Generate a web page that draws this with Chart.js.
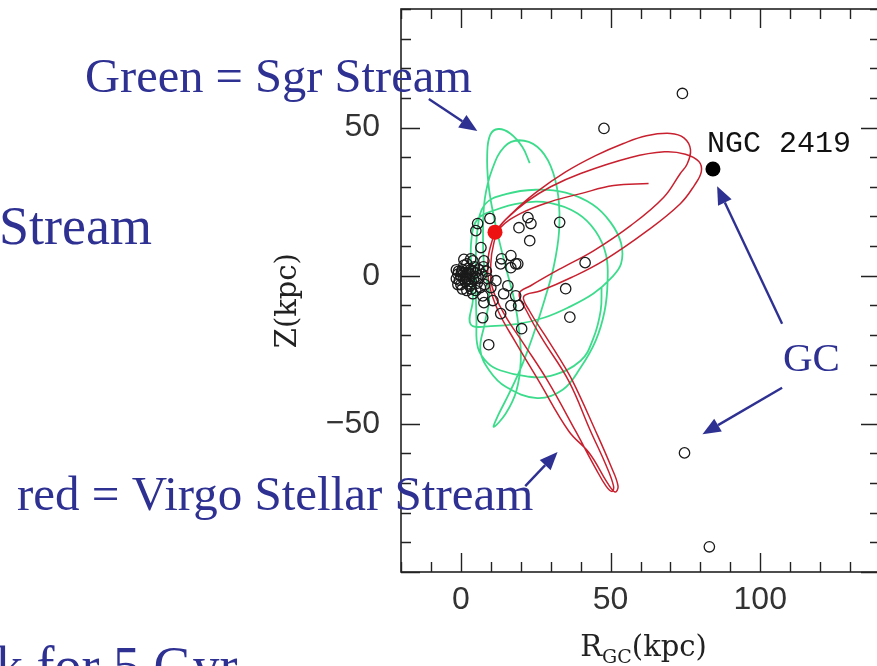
<!DOCTYPE html>
<html>
<head>
<meta charset="utf-8">
<script src="https://cdn.jsdelivr.net/npm/chart.js@4/dist/chart.umd.min.js"></script>
<style>
  html, body { margin: 0; padding: 0; background: #fff; overflow: hidden; width: 877px; height: 666px; }
  #wrap { position: absolute; left: 0; top: 0; width: 900px; height: 666px; }
  canvas { display: block; }
</style>
</head>
<body>
<div id="wrap"><canvas id="c" width="900" height="666"></canvas></div>
<script>
// Orbit of the Sgr stream, [R_GC, Z] in kpc
const sgrOrbit = [
  [23,38],[20.5,43.5],[16.5,48],[12.5,49.5],[9.8,47.5],[8.8,41],[9.2,31],[10.8,21],[13,11],[15.5,1],
  [18,-9],[19.5,-19],[20,-29],[18.5,-39],[15,-46.5],[11,-51],
  [12.5,-47],[16,-40],[20.5,-30],[24.5,-19],[28,-8],[31,3],[32.8,15],[32.5,27],[30,37],[25.5,43.5],
  [19.5,45.7],[14.5,43.5],[10.5,36],[8,26],[7.4,14],[7.8,3],[9.5,-7],
  [8,-16],[6.5,-25],[9.5,-32],[15,-37.5],[25.5,-41.3],[34,-38.5],[40,-31],[45,-22],[48,-12],[49,-2],
  [48.5,7],[45,15],[39,21],[30,24.5],[20,24.5],[11,22],[5.5,19],[3.5,12],[3.5,2],[4,-8],[3.3,-16.5],
  [10,-17],[19,-16.3],[27.7,-14.2],[35.7,-10.8],[44.3,-6],[50,-1],[53.5,4],[53.5,11],[50,18],[44,24],
  [35,28],[25,29],[15,27.5],[8,24],[5.5,15],[5,0],[5.2,-15],[5.7,-24.3],
  [9,-29.5],[13.3,-32],[22,-34],[30,-33.8],[40,-28.7],[44.3,-21],[46.7,-11.8],[47,-4]
];

// Orbit of the Virgo Stellar Stream, [R_GC, Z] in kpc
const vssOrbit = [
  [11.4,14.7],[15,19],[22,25],[30,30],[40,34.5],[56.7,39.9],[68,41.8],[75,41],[79.5,38.5],[80.3,35],
  [78,30.5],[73.3,24.3],[62.3,15.2],[47.7,5.1],[36.7,-0.7],[26.7,-5.1],[21,-7],
  [23,-12],[28,-20],[33,-28],[37.3,-35.5],[45,-52.4],[50,-64],[52.5,-71],[51.5,-73],[49,-70],[43,-60],
  [36,-52.4],[26,-35.5],[18,-22],[12.5,-12],[9.5,-3],[9,5],[10.5,12],[12,15.5],
  [17,21],[25,28],[35,35],[45,40.5],[54.3,44.6],[62,47.2],[70,48],[74.5,46.5],[76.7,42.5],[75.5,37.5],
  [73.3,34.5],[67.7,26.4],[56.7,16.9],[44.3,8.4],[33.3,2.4],[23.3,-3.4],[19.5,-6],
  [22,-12],[27,-21],[36,-35.5],[43.3,-52.4],[48.5,-64],[51,-71],[50.5,-72.8],[48.5,-71],[45,-65],
  [38.3,-52.4],[29,-35.5],[21,-23],[14.5,-13],[10.5,-4],[10,4],[11,11],[13,16],
  [20,21],[30,25],[40,27.7],[51,30.4],[62.7,31.1]
];

// Globular clusters, [R_GC, Z] in kpc
const globularClusters = [
  [74,61.5],[47.8,49.7],[74.7,-59.8],[83,-91.5],[41.5,4.4],[35,-4.4],[36.4,-14],[33,18],
  [23,11.8],[19.4,16.2],[22.4,19.6],[23.4,17.6],[9.7,19.3],[5.6,17.6],[5,15.2],[6.7,9.5],
  [13.6,5.7],[16.7,6.8],[18.3,4],[16.7,2.7],[19,4],[15.7,-3.4],[18.3,-6.8],[19.3,-10.1],
  [16.7,-10.1],[13.3,-12.8],[7.3,-14.2],[20.3,-17.9],[9.3,-23.3],[4,-6.1],[7.3,-6.8],[7.7,-9.1],
  [10.7,-8.4],[10,-4],[11.7,-1.7],[14.3,-6.1],[13.3,4],[7.7,5],[3.3,5.7],
  [0,0],[1,1],[2,-1],[-1,0.5],[0.5,2],[1.5,-2],[3,0.5],[2.5,2.5],[-0.5,-1.5],[1,3.5],
  [3.5,-2],[4,1.5],[-1.5,2],[0,-3],[2,4],[5,-0.5],[4.5,3],[3,-3.5],[-1,-3],[1.8,0.2],
  [0.2,1.2],[2.8,-1.2],[6,2],[5.5,-2.5],[4,5],[6.5,-4],[1,5.5],[7,0.5],[8,-3],[7.5,3],
  [2,-5],[5,-5],[9,-1],[-1.5,-1],[0.5,-4.5],[3.5,-4.5],[6,-1],[8.5,1.5],
  [1.5,-0.5],[2.5,1],[0.8,-1],[3.2,2],[4.2,-1],[-0.8,1.5],[2.2,-2.8],[4.8,1]
];

const ngc2419 = [[84.2,36]];
const vssNow = [[11.4,14.7]];

// Axis ranges and labelled ticks
const rRange = [-20, 140];
const zRange = [-100, 90];
const rTickLabels = [0, 50, 100];
const zTickLabels = [-50, 0, 50];
const minorStep = 10;
const majorStep = 50;

// Callout arrows: [tailR, tailZ, tipR, tipZ]
const callouts = [
  [-10.7, 59.6, 5.5, 48.8],
  [21.5, -71.0, 32.3, -59.5],
  [107.3, -16.2, 85.6, 30.2],
  [107.3, -37.8, 80.7, -53.5]
];

const toXY = arr => arr.map(([x, y]) => ({x, y}));
const BLUE = '#2e3192';
const INK = '#222';

const framePlugin = {
  id: 'frame',
  afterDatasetsDraw(chart) {
    const {ctx, chartArea: a, scales: {x, y}} = chart;
    ctx.save();
    ctx.strokeStyle = INK;
    ctx.lineWidth = 1.6;
    ctx.strokeRect(a.left, a.top, a.right - a.left, a.bottom - a.top);
    ctx.lineWidth = 1.4;
    ctx.beginPath();
    for (let v = rRange[0]; v <= rRange[1]; v += minorStep) {
      const p = Math.round(x.getPixelForValue(v)) + 0.5;
      const L = v % majorStep === 0 ? 19 : 10;
      ctx.moveTo(p, a.bottom); ctx.lineTo(p, a.bottom - L);
      ctx.moveTo(p, a.top); ctx.lineTo(p, a.top + L);
    }
    for (let v = zRange[0]; v <= zRange[1]; v += minorStep) {
      const p = Math.round(y.getPixelForValue(v)) + 0.5;
      const L = v % majorStep === 0 ? 19 : 10;
      ctx.moveTo(a.left, p); ctx.lineTo(a.left + L, p);
      ctx.moveTo(a.right, p); ctx.lineTo(a.right - L, p);
    }
    ctx.stroke();

    // axis titles
    ctx.fillStyle = INK;
    ctx.textBaseline = 'alphabetic';
    const big = '29px "DejaVu Serif"', sub = '19px "DejaVu Serif"';
    ctx.font = big; const wR = ctx.measureText('R').width; const wK = ctx.measureText('(kpc)').width;
    ctx.font = sub; const wG = ctx.measureText('GC').width;
    const cx = (x.getPixelForValue(rTickLabels[0]) + x.getPixelForValue(rTickLabels[2])) / 2 + 33;
    let tx = cx - (wR + wG + wK) / 2;
    const base = a.bottom + 84;
    ctx.textAlign = 'left';
    ctx.font = big; ctx.fillText('R', tx, base); tx += wR;
    ctx.font = sub; ctx.fillText('GC', tx, base + 7); tx += wG;
    ctx.font = big; ctx.fillText('(kpc)', tx, base);

    ctx.save();
    ctx.translate(a.left - 113, y.getPixelForValue(0) + 25);
    ctx.rotate(-Math.PI / 2);
    ctx.font = big; ctx.textAlign = 'center'; ctx.textBaseline = 'middle';
    ctx.fillText('Z(kpc)', 0, 0);
    ctx.restore();

    // NGC 2419 label
    const nx = x.getPixelForValue(ngc2419[0][0]), ny = y.getPixelForValue(ngc2419[0][1]);
    ctx.font = '30px "Liberation Mono"';
    ctx.textAlign = 'left'; ctx.textBaseline = 'alphabetic';
    ctx.fillStyle = '#111';
    ctx.fillText('NGC 2419', nx - 6, ny - 17);
    ctx.restore();
  },
  afterDraw(chart) {
    const {ctx, scales: {x, y}} = chart;
    ctx.save();
    ctx.fillStyle = BLUE;
    ctx.strokeStyle = BLUE;
    ctx.textAlign = 'left';
    ctx.textBaseline = 'alphabetic';
    ctx.font = '54px "Liberation Serif"';
    ctx.fillText('Stream', -1, 244);
    ctx.fillText('k for 5 Gyr', -4, 684);
    ctx.font = '48.5px "Liberation Serif"';
    ctx.fillText('Green = Sgr Stream', 85, 92);
    ctx.font = '49px "Liberation Serif"';
    ctx.fillText('red = Virgo Stellar Stream', 17, 510);
    ctx.font = '41px "Liberation Serif"';
    ctx.fillText('GC', 783, 371);

    ctx.lineWidth = 2.4;
    callouts.forEach(([r0, z0, r1, z1]) => {
      const x0 = x.getPixelForValue(r0), y0 = y.getPixelForValue(z0);
      const x1 = x.getPixelForValue(r1), y1 = y.getPixelForValue(z1);
      const ang = Math.atan2(y1 - y0, x1 - x0);
      const hl = 18, hw = 7.5;
      const bx = x1 - hl * Math.cos(ang), by = y1 - hl * Math.sin(ang);
      ctx.beginPath();
      ctx.moveTo(x0, y0); ctx.lineTo(bx, by);
      ctx.stroke();
      ctx.beginPath();
      ctx.moveTo(x1, y1);
      ctx.lineTo(bx + hw * Math.sin(ang), by - hw * Math.cos(ang));
      ctx.lineTo(bx - hw * Math.sin(ang), by + hw * Math.cos(ang));
      ctx.closePath();
      ctx.fill();
    });
    ctx.restore();
  }
};

new Chart(document.getElementById('c'), {
  type: 'scatter',
  data: {
    datasets: [
      { label: 'Virgo now', data: toXY(vssNow), order: 0, pointRadius: 7.5, pointBackgroundColor: '#ee1111', pointBorderColor: '#ee1111', pointBorderWidth: 0 },
      { label: 'NGC 2419', data: toXY(ngc2419), order: 1, pointRadius: 7.5, pointBackgroundColor: '#000', pointBorderColor: '#000', pointBorderWidth: 0 },
      { label: 'GC', data: toXY(globularClusters), order: 2, pointRadius: 5.2, pointBackgroundColor: 'rgba(0,0,0,0)', pointBorderColor: '#1a1a1a', pointBorderWidth: 1.3 },
      { label: 'Virgo Stellar Stream', data: toXY(vssOrbit), order: 3, showLine: true, tension: 0.4, pointRadius: 0, borderColor: '#c8202e', borderWidth: 1.5 },
      { label: 'Sgr Stream', data: toXY(sgrOrbit), order: 4, showLine: true, tension: 0.4, pointRadius: 0, borderColor: '#3ddc8c', borderWidth: 1.8 }
    ]
  },
  options: {
    responsive: false,
    animation: false,
    devicePixelRatio: 1,
    layout: { padding: { left: 0, top: 9, right: 20, bottom: 0 } },
    plugins: { legend: { display: false }, tooltip: { enabled: false } },
    scales: {
      x: {
        type: 'linear', min: rRange[0], max: rRange[1],
        grid: { display: false }, border: { display: false },
        afterFit(s) { s.height = 94; s.paddingLeft = 0; s.paddingRight = 0; },
        afterBuildTicks(s) { s.ticks = rTickLabels.map(v => ({value: v})); },
        ticks: { color: '#333', padding: 1, font: { family: '"Liberation Sans"', size: 32 }, maxRotation: 0 }
      },
      y: {
        type: 'linear', min: zRange[0], max: zRange[1],
        grid: { display: false }, border: { display: false },
        afterFit(s) { s.width = 401; s.paddingTop = 0; s.paddingBottom = 0; },
        afterBuildTicks(s) { s.ticks = zTickLabels.map(v => ({value: v})); },
        ticks: { color: '#333', padding: 13, font: { family: '"Liberation Sans"', size: 32 },
          callback: v => (v < 0 ? '\u2212' + Math.abs(v) : String(v)) }
      }
    }
  },
  plugins: [framePlugin]
});
</script>
</body>
</html>
